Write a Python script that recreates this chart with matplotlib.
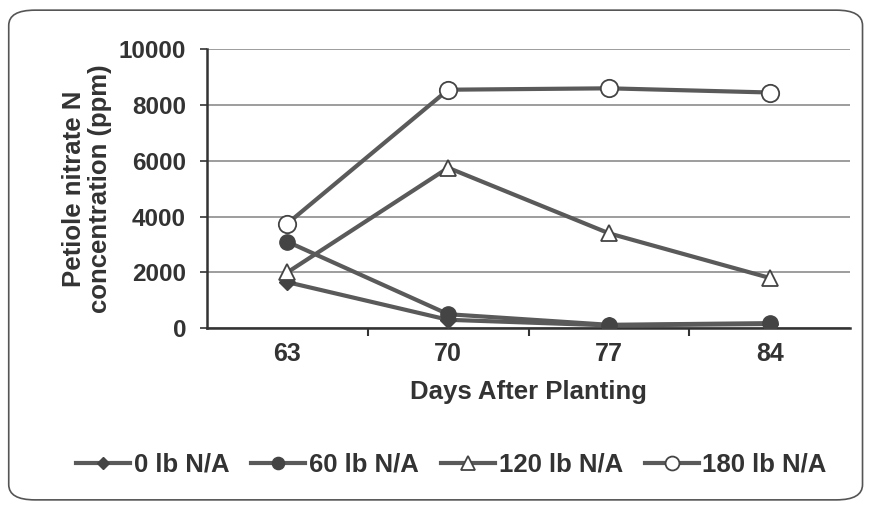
import matplotlib
matplotlib.use("Agg")
import matplotlib.pyplot as plt
from matplotlib.patches import FancyBboxPatch

days = [63, 70, 77, 84]
n0 = [1650, 300, 100, 150]
n60 = [3100, 500, 120, 180]
n120 = [2000, 5750, 3400, 1800]
n180 = [3750, 8550, 8600, 8450]
yticks = [0, 2000, 4000, 6000, 8000, 10000]

plt.rcParams['font.family'] = ['Liberation Sans', 'DejaVu Sans']
plt.rcParams['font.weight'] = 'bold'
plt.rcParams['text.color'] = '#333333'
plt.rcParams['axes.labelcolor'] = '#333333'
plt.rcParams['xtick.color'] = '#333333'
plt.rcParams['ytick.color'] = '#333333'

fig = plt.figure(figsize=(8.73, 5.08), dpi=100)
fig.patches.append(FancyBboxPatch((0.010, 0.016), 0.978, 0.964,
                                  boxstyle="round,pad=0,rounding_size=0.03",
                                  transform=fig.transFigure, fill=False,
                                  edgecolor='#555555', linewidth=1.2))

ax = fig.add_axes([0.237, 0.354, 0.737, 0.549])
line_col = '#5a5a5a'
lw = 3
ax.plot(days, n0, color=line_col, lw=lw, marker='D', ms=8, mfc='#444444', mec='#444444', label='0 lb N/A', zorder=3)
ax.plot(days, n60, color=line_col, lw=lw, marker='o', ms=11, mfc='#444444', mec='#444444', label='60 lb N/A', zorder=3)
ax.plot(days, n120, color=line_col, lw=lw, marker='^', ms=12, mfc='white', mec='#444444', mew=1.3, label='120 lb N/A', zorder=3)
ax.plot(days, n180, color=line_col, lw=lw, marker='o', ms=12.5, mfc='white', mec='#444444', mew=1.3, label='180 lb N/A', zorder=3)

ax.set_xlim(59.5, 87.5)
ax.set_ylim(0, 10000)
ax.set_yticks(yticks)
ax.set_yticklabels([str(v) for v in yticks], fontsize=17.5, fontweight='bold')
ax.set_xticks([66.5, 73.5, 80.5])
ax.set_xticklabels([])
ax.set_xticks(days, minor=True)
ax.set_xticklabels([str(d) for d in days], minor=True, fontsize=18, fontweight='bold')
ax.tick_params(axis='x', which='minor', length=0, pad=10)
ax.tick_params(axis='x', which='major', length=6, width=1.5, direction='out')
ax.tick_params(axis='y', length=5, width=1.2, direction='out', pad=10)
ax.yaxis.grid(True, color='#8c8c8c', lw=1.2)
ax.set_axisbelow(True)
for s in ['top', 'right']:
    ax.spines[s].set_visible(False)
ax.spines['left'].set_linewidth(1.8)
ax.spines['bottom'].set_linewidth(1.8)
ax.spines['left'].set_color('#333333')
ax.spines['bottom'].set_color('#333333')

ax.set_xlabel('Days After Planting', fontsize=18.5, fontweight='bold', labelpad=10)
ax.set_ylabel('Petiole nitrate N\nconcentration (ppm)', fontsize=18.5, fontweight='bold', labelpad=5, linespacing=1.1)

fig.legend(loc='center', bbox_to_anchor=(0.517, 0.085), ncol=4, frameon=False,
           prop={'size': 18.5, 'weight': 'bold'}, handlelength=2.1, columnspacing=0.85, handletextpad=0.15,
           markerscale=0.8)

fig.savefig('out.png', dpi=100)
